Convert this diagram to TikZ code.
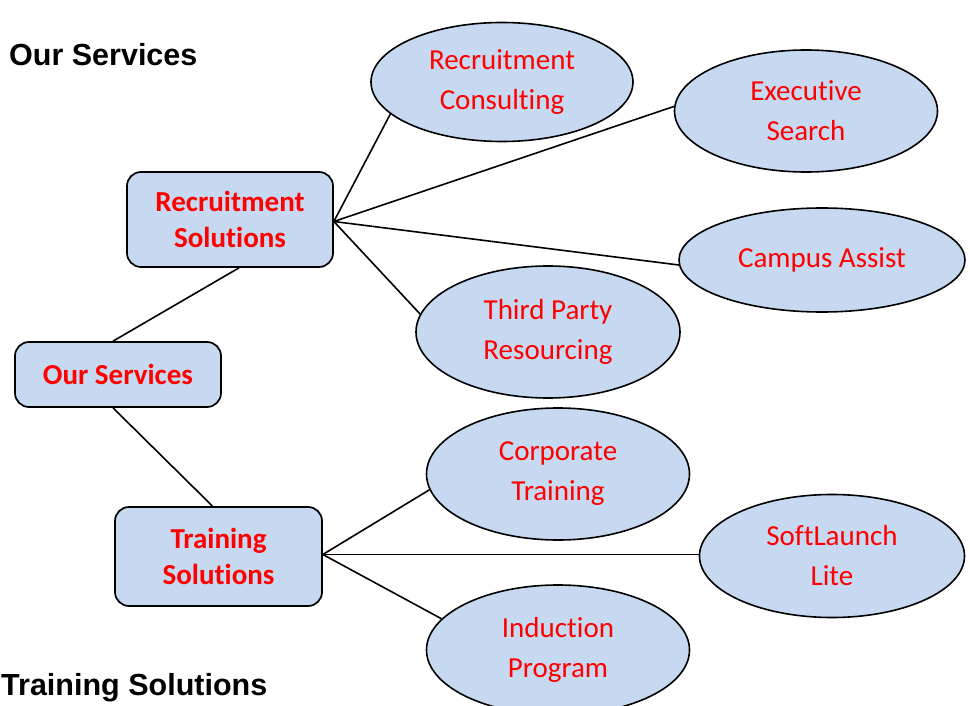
\documentclass[tikz,border=0pt]{standalone}
\usepackage{fontspec}
\setmainfont[Ligatures={NoCommon,NoContextual}]{Carlito}
\newfontfamily\arialfont{Liberation Sans}
\usetikzlibrary{shapes.geometric,calc}
\definecolor{boxfill}{RGB}{198,217,240}
\definecolor{txtred}{RGB}{255,0,0}
\newcommand\nolig{\kern0pt }
\begin{document}
\begin{tikzpicture}[x=1pt,y=-1pt,
  oval/.style={ellipse, draw=black, line width=1.6pt, fill=boxfill, inner sep=0pt, text=txtred, align=center, font=\fontsize{29}{40}\selectfont},
  rbox/.style={rectangle, rounded corners=14pt, draw=black, line width=1.7pt, fill=boxfill, inner sep=0pt, text=txtred, align=center, font=\fontsize{29}{36}\selectfont\bfseries},
  title/.style={anchor=base west, inner sep=0pt, font=\arialfont\bfseries\fontsize{30.5}{36}\selectfont},
  link/.style={draw=black, line width=1.6pt}]
\useasboundingbox (0,0) rectangle (970,706);

\node[title] (t1) at (9,66) {Our Services};
\node[title] (t2) at (1,695) {Training Solutions};

\node[rbox, minimum width=206pt, minimum height=95pt] (rs) at (230,219.5) {Recruitment\\Solut\nolig ions};
\node[rbox, minimum width=206pt, minimum height=65pt] (os) at (118,374.5) {Our Services};
\node[rbox, minimum width=207pt, minimum height=99pt] (tb) at (218.5,556.5) {Training\\Solut\nolig ions};

\node[oval, minimum width=262pt, minimum height=119pt] (rc) at (502,82) {Recruitment\\Consult\nolig ing};
\node[oval, minimum width=263pt, minimum height=122pt] (es) at (806,111) {Execut\nolig ive\\Search};
\node[oval, minimum width=286pt, minimum height=104pt] (ca) at (822,260) {Campus Assist};
\node[oval, minimum width=264pt, minimum height=132pt] (tp) at (548,332) {Third Party\\Resourcing};
\node[oval, minimum width=263pt, minimum height=132pt] (ct) at (558,474) {Corporate\\Training};
\node[oval, minimum width=265pt, minimum height=123pt] (sl) at (832,556) {SoftLaunch\\Lite};
\node[oval, minimum width=263pt, minimum height=130pt] (ip) at (558,650) {Induct\nolig ion\\Program};

\draw[link] ($(os.north)+(-5,0)$) -- ($(rs.south)+(9,0)$);
\draw[link] ($(os.south)+(-5,0)$) -- ($(tb.north)+(-6,0)$);

\coordinate (rsx) at ($(rs.east)+(0,2)$);
\draw[link] (rsx) -- (rc.196);
\draw[link] (rsx) -- (es.178);
\draw[link] (rsx) -- (ca.182);
\draw[link] (rsx) -- (tp.172);

\coordinate (tbx) at ($(tb.east)+(0,-2)$);
\draw[link] (tbx) -- (ct.187);
\draw[link] (tbx) -- (tbx -| sl.west);
\draw[link] (tbx) -- (ip.165);
\end{tikzpicture}
\end{document}
